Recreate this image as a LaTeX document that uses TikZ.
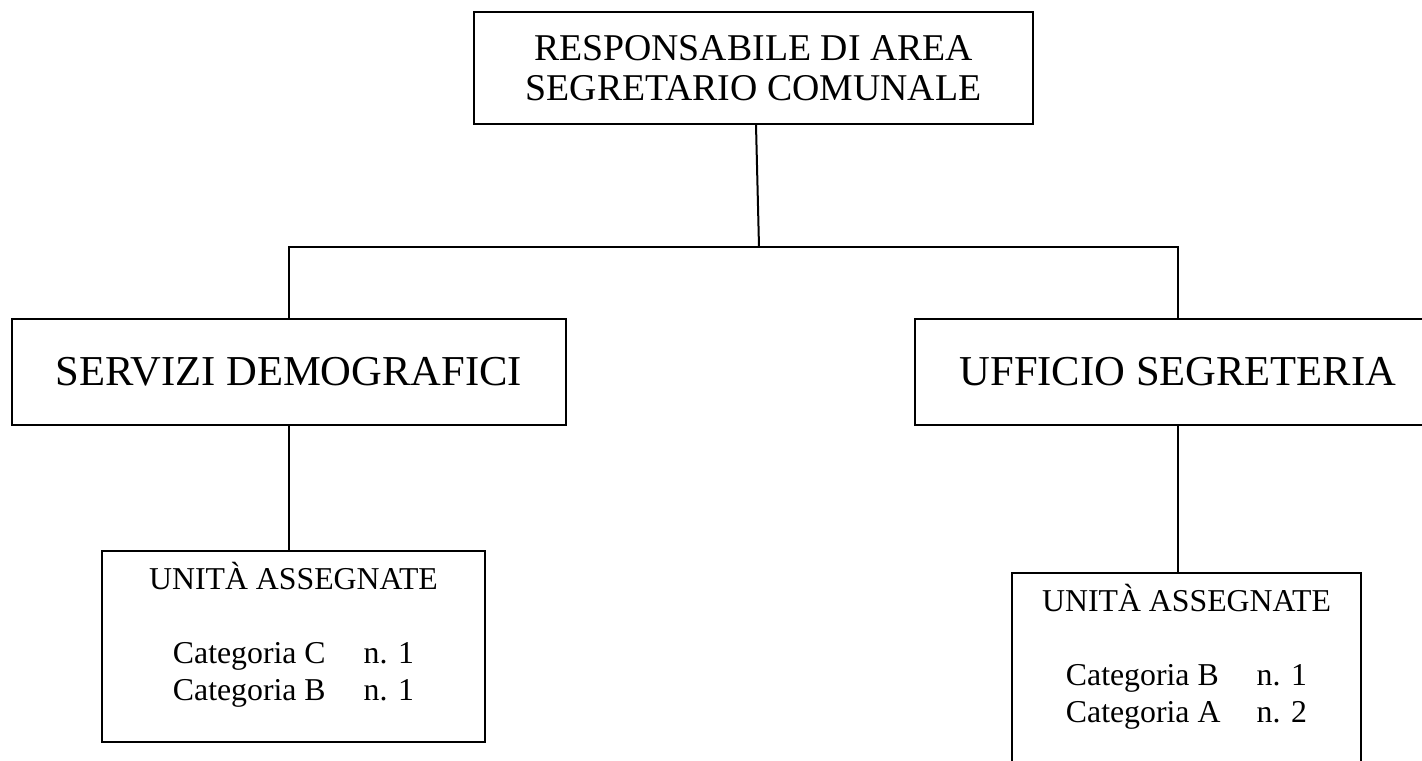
\documentclass[tikz,border=0pt]{standalone}
\usepackage{fontspec}
\setmainfont{Liberation Serif}
\newcommand{\catrow}[2]{\makebox[6em][l]{Categoria #1}n. #2}

\begin{document}
\begin{tikzpicture}
[x=0.5pt, y=-0.5pt, line width=1pt,
 box/.style={draw, rectangle, inner sep=0pt, align=center},
 unitbox/.style={box, minimum height=95.5pt, font=\fontsize{15.9}{18.5}\selectfont}]

\useasboundingbox (0,0) rectangle (1422,760);
\clip (0,0) rectangle (1422,760);
%________________________________________________%
\node[box, minimum width=279.5pt, minimum height=56pt, font=\fontsize{18.9}{20}\selectfont] (resp) at (753.5,68) {RESPONSABILE DI AREA\\SEGRETARIO COMUNALE};
%________________________________________________%
\node[box, minimum width=277pt, minimum height=53pt, font=\fontsize{21.3}{24}\selectfont] (demo) at (289,372) {SERVIZI DEMOGRAFICI};
\node[box, minimum width=263pt, minimum height=53pt, font=\fontsize{21.3}{24}\selectfont] (segr) at (1178,372) {UFFICIO SEGRETERIA};
%________________________________________________%
\node[unitbox, minimum width=191.5pt] (unitdemo) at (293.5,646.5) {UNITÀ ASSEGNATE\\[18.5pt]\catrow{C}{1}\\\catrow{B}{1}\\[-3pt]\mbox{}};
\node[unitbox, minimum width=174.5pt] (unitsegr) at (1186.5,668.5) {UNITÀ ASSEGNATE\\[18.5pt]\catrow{B}{1}\\\catrow{A}{2}\\[-3pt]\mbox{}};
%________________________________________________%
\coordinate (hub) at (759,247);
\draw ([xshift=1.25pt]resp.south) -- (hub);
\draw (demo.north) |- (hub) -| (segr.north);
\draw (demo.south) -- (demo.south |- unitdemo.north);
\draw (segr.south) -- (segr.south |- unitsegr.north);
%________________________________________________%
\end{tikzpicture}
\end{document}
